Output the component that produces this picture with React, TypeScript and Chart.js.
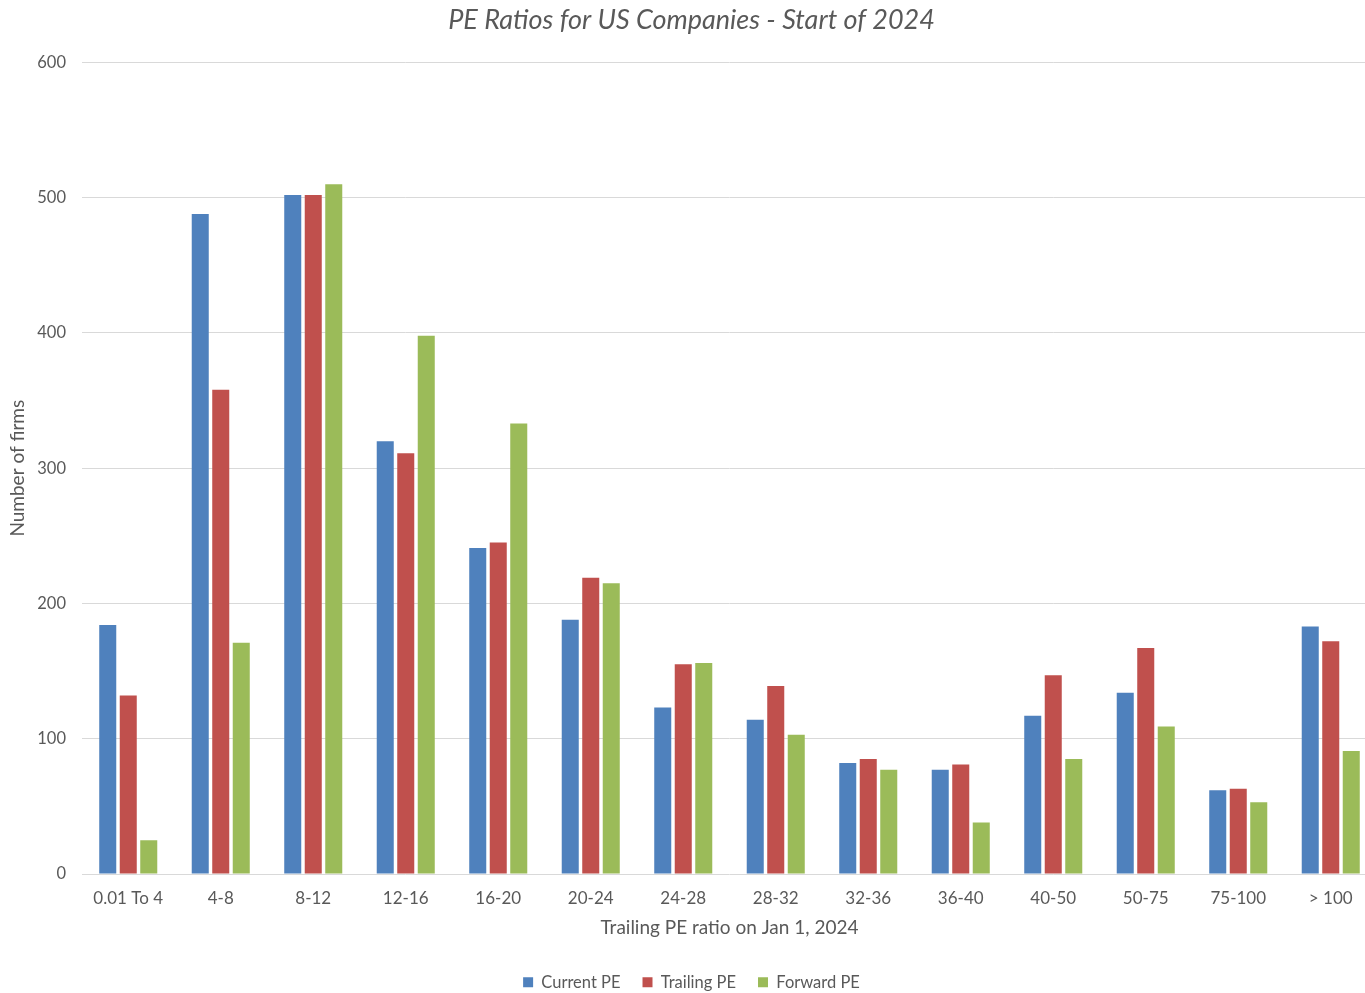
import React, { useEffect, useRef } from "react";
import { Chart, registerables } from "chart.js";

Chart.register(...registerables);

const categories = ["0.01 To 4", "4-8", "8-12", "12-16", "16-20", "20-24", "24-28", "28-32", "32-36", "36-40", "40-50", "50-75", "75-100", "> 100"];
const currentPE = [184, 488, 502, 320, 241, 188, 123, 114, 82, 77, 117, 134, 62, 183];
const trailingPE = [132, 358, 502, 311, 245, 219, 155, 139, 85, 81, 147, 167, 63, 172];
const forwardPE = [25, 171, 510, 398, 333, 215, 156, 103, 77, 38, 85, 109, 53, 91];
const yTicks = [0, 100, 200, 300, 400, 500, 600];

const FONT = "Lato, 'Open Sans', sans-serif";
const GREY = "#595959";

const legendHeightPlugin = {
  id: "legendHeight",
  afterInit(chart: any) {
    const legend = chart.legend;
    if (legend && !legend.__patched) {
      const origFit = legend.fit;
      legend.fit = function (...args: any[]) {
        origFit.apply(this, args);
        this.height = 41;
      };
      legend.__patched = true;
    }
  },
};

export default function App() {
  const ref = useRef<HTMLCanvasElement | null>(null);
  useEffect(() => {
    if (!ref.current) return;
    const chart = new Chart(ref.current, {
      type: "bar",
      data: {
        labels: categories,
        datasets: [
          { label: "Current PE", data: currentPE, backgroundColor: "#4F81BD" },
          { label: "Trailing PE", data: trailingPE, backgroundColor: "#C0504D" },
          { label: "Forward PE", data: forwardPE, backgroundColor: "#9BBB59" },
        ],
      },
      plugins: [legendHeightPlugin],
      options: {
        responsive: false,
        animation: false,
        layout: { padding: { left: 6, right: 0, top: 0, bottom: 0 } },
        datasets: { bar: { categoryPercentage: 0.665, barPercentage: 0.83 } } as any,
        plugins: {
          title: {
            display: true,
            text: "PE Ratios for US Companies - Start of 2024",
            color: GREY,
            font: { family: FONT, size: 27, style: "italic", weight: "normal" },
            padding: { top: 4, bottom: 26 },
          },
          legend: {
            position: "bottom",
            labels: {
              boxWidth: 10,
              boxHeight: 10,
              color: GREY,
              font: { family: FONT, size: 16.5 },
              padding: 22,
            },
          },
          tooltip: { enabled: false },
        },
        scales: {
          x: {
            afterFit: (axis: any) => {
              axis.height = 78;
            },
            grid: { display: false, drawTicks: false },
            border: { display: false },
            ticks: { color: GREY, font: { family: FONT, size: 17 }, padding: 14, maxRotation: 0 },
            title: {
              display: true,
              text: "Trailing PE ratio on Jan 1, 2024",
              color: GREY,
              font: { family: FONT, size: 19 },
              padding: { top: 7, bottom: 13 },
            },
          },
          y: {
            min: 0,
            max: 600,
            afterBuildTicks: (axis: any) => {
              axis.ticks = yTicks.map((v) => ({ value: v }));
            },
            afterFit: (axis: any) => {
              axis.width = 76;
            },
            grid: { color: "#d9d9d9", drawTicks: false },
            border: { display: false },
            ticks: { color: GREY, font: { family: FONT, size: 16.5 }, padding: 16 },
            title: {
              display: true,
              text: "Number of firms",
              color: GREY,
              font: { family: FONT, size: 19 },
              padding: { top: 0, bottom: 8 },
            },
          },
        },
      },
    });
    return () => chart.destroy();
  }, []);
  return (
    <div style={{ position: "fixed", left: 0, top: 0, width: 1365, height: 993, overflow: "hidden", background: "#fff" }}>
      <canvas ref={ref} width={1377} height={993} style={{ display: "block" }} />
    </div>
  );
}
